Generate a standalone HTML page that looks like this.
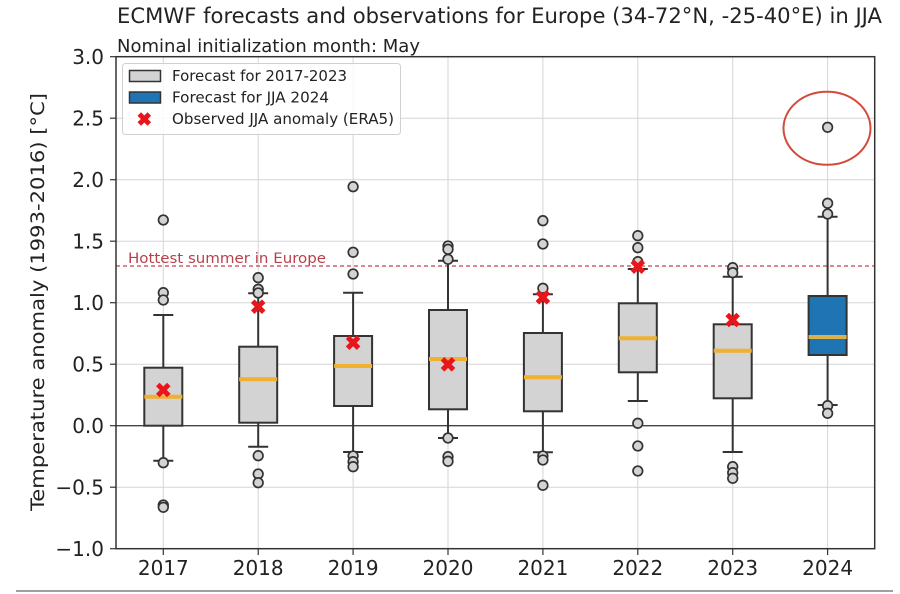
<!DOCTYPE html>
<html><head><meta charset="utf-8"><style>
html,body{margin:0;padding:0;background:#fff;}
svg{display:block;}
text{font-family:"DejaVu Sans","Liberation Sans",sans-serif;fill:#222;}
</style></head><body>
<svg width="900" height="594" viewBox="0 0 900 594" xmlns="http://www.w3.org/2000/svg">
<rect width="900" height="594" fill="#fff"/>
<!-- title -->
<text x="117" y="23" font-size="21" textLength="765" lengthAdjust="spacingAndGlyphs">ECMWF forecasts and observations for Europe (34-72°N, -25-40°E) in JJA</text>
<text x="117" y="52" font-size="18" textLength="303" lengthAdjust="spacingAndGlyphs">Nominal initialization month: May</text>

<!-- grid -->
<g stroke="#d6d6d6" stroke-width="1">
<line x1="116" x2="875" y1="118.2" y2="118.2"/>
<line x1="116" x2="875" y1="179.7" y2="179.7"/>
<line x1="116" x2="875" y1="241.2" y2="241.2"/>
<line x1="116" x2="875" y1="302.7" y2="302.7"/>
<line x1="116" x2="875" y1="364.2" y2="364.2"/>
<line x1="116" x2="875" y1="487.2" y2="487.2"/>
<line y1="57" y2="549" x1="163.3" x2="163.3"/>
<line y1="57" y2="549" x1="258.2" x2="258.2"/>
<line y1="57" y2="549" x1="353.1" x2="353.1"/>
<line y1="57" y2="549" x1="448" x2="448"/>
<line y1="57" y2="549" x1="542.9" x2="542.9"/>
<line y1="57" y2="549" x1="637.8" x2="637.8"/>
<line y1="57" y2="549" x1="732.7" x2="732.7"/>
<line y1="57" y2="549" x1="827.6" x2="827.6"/>
</g>
<!-- zero line -->
<line x1="116" x2="875" y1="425.7" y2="425.7" stroke="#444" stroke-width="1.3"/>
<!-- hottest summer -->
<line x1="116" x2="875" y1="266" y2="266" stroke="#c8404a" stroke-width="1.2" stroke-dasharray="4,3"/>
<text x="128" y="263" font-size="14" fill="#b8404c" style="fill:#b8404c" textLength="198" lengthAdjust="spacingAndGlyphs">Hottest summer in Europe</text>

<!-- boxes -->
<g stroke="#333" stroke-width="2" fill="none">
<!-- 2017 -->
<line x1="163.3" x2="163.3" y1="367.7" y2="315"/><line x1="153.3" x2="173.3" y1="315" y2="315"/>
<line x1="163.3" x2="163.3" y1="425.7" y2="460.7"/><line x1="153.3" x2="173.3" y1="460.7" y2="460.7"/>
<rect x="144.3" y="367.7" width="38" height="58" fill="#d3d3d3"/>
<!-- 2018 -->
<line x1="258.2" x2="258.2" y1="346.7" y2="293.3"/><line x1="248.2" x2="268.2" y1="293.3" y2="293.3"/>
<line x1="258.2" x2="258.2" y1="422.7" y2="446.7"/><line x1="248.2" x2="268.2" y1="446.7" y2="446.7"/>
<rect x="239.2" y="346.7" width="38" height="76" fill="#d3d3d3"/>
<!-- 2019 -->
<line x1="353.1" x2="353.1" y1="336" y2="292.7"/><line x1="343.1" x2="363.1" y1="292.7" y2="292.7"/>
<line x1="353.1" x2="353.1" y1="406" y2="452"/><line x1="343.1" x2="363.1" y1="452" y2="452"/>
<rect x="334.1" y="336" width="38" height="70" fill="#d3d3d3"/>
<!-- 2020 -->
<line x1="448" x2="448" y1="310" y2="260.7"/><line x1="438" x2="458" y1="260.7" y2="260.7"/>
<line x1="448" x2="448" y1="409.3" y2="438"/><line x1="438" x2="458" y1="438" y2="438"/>
<rect x="429" y="310" width="38" height="99.3" fill="#d3d3d3"/>
<!-- 2021 -->
<line x1="542.9" x2="542.9" y1="333" y2="294.3"/><line x1="532.9" x2="552.9" y1="294.3" y2="294.3"/>
<line x1="542.9" x2="542.9" y1="411.3" y2="452.3"/><line x1="532.9" x2="552.9" y1="452.3" y2="452.3"/>
<rect x="523.9" y="333" width="38" height="78.3" fill="#d3d3d3"/>
<!-- 2022 -->
<line x1="637.8" x2="637.8" y1="303.3" y2="269"/><line x1="627.8" x2="647.8" y1="269" y2="269"/>
<line x1="637.8" x2="637.8" y1="372.3" y2="401"/><line x1="627.8" x2="647.8" y1="401" y2="401"/>
<rect x="618.8" y="303.3" width="38" height="69" fill="#d3d3d3"/>
<!-- 2023 -->
<line x1="732.7" x2="732.7" y1="324.3" y2="276.7"/><line x1="722.7" x2="742.7" y1="276.7" y2="276.7"/>
<line x1="732.7" x2="732.7" y1="398.3" y2="452"/><line x1="722.7" x2="742.7" y1="452" y2="452"/>
<rect x="713.7" y="324.3" width="38" height="74" fill="#d3d3d3"/>
<!-- 2024 -->
<line x1="827.6" x2="827.6" y1="296" y2="216.7"/><line x1="817.6" x2="837.6" y1="216.7" y2="216.7"/>
<line x1="827.6" x2="827.6" y1="355" y2="405"/><line x1="817.6" x2="837.6" y1="405" y2="405"/>
<rect x="808.6" y="296" width="38" height="59" fill="#1f74b4"/>
</g>
<!-- medians -->
<g stroke="#f0b030" stroke-width="4">
<line x1="144.3" x2="182.3" y1="396.7" y2="396.7"/>
<line x1="239.2" x2="277.2" y1="379.3" y2="379.3"/>
<line x1="334.1" x2="372.1" y1="366" y2="366"/>
<line x1="429" x2="467" y1="359" y2="359"/>
<line x1="523.9" x2="561.9" y1="377.3" y2="377.3"/>
<line x1="618.8" x2="656.8" y1="338.3" y2="338.3"/>
<line x1="713.7" x2="751.7" y1="350.7" y2="350.7"/>
<line x1="808.6" x2="846.6" y1="337" y2="337" stroke="#dcb04a"/>
</g>
<!-- outliers -->
<g fill="#d3d3d3" stroke="#333" stroke-width="1.7">
<circle cx="163.3" cy="220" r="4.8"/><circle cx="163.3" cy="292.7" r="4.8"/><circle cx="163.3" cy="300" r="4.8"/><circle cx="163.3" cy="462.7" r="4.8"/><circle cx="163.3" cy="505" r="4.8"/><circle cx="163.3" cy="507.3" r="4.8"/>
<circle cx="258.2" cy="277.7" r="4.8"/><circle cx="258.2" cy="289.3" r="4.8"/><circle cx="258.2" cy="293" r="4.8"/><circle cx="258.2" cy="455.7" r="4.8"/><circle cx="258.2" cy="474" r="4.8"/><circle cx="258.2" cy="482.7" r="4.8"/>
<circle cx="353.1" cy="186.7" r="4.8"/><circle cx="353.1" cy="252.3" r="4.8"/><circle cx="353.1" cy="274" r="4.8"/><circle cx="353.1" cy="456" r="4.8"/><circle cx="353.1" cy="461.7" r="4.8"/><circle cx="353.1" cy="466.7" r="4.8"/>
<circle cx="448" cy="246" r="4.8"/><circle cx="448" cy="249.3" r="4.8"/><circle cx="448" cy="259.3" r="4.8"/><circle cx="448" cy="438" r="4.8"/><circle cx="448" cy="456.7" r="4.8"/><circle cx="448" cy="461.3" r="4.8"/>
<circle cx="542.9" cy="220.7" r="4.8"/><circle cx="542.9" cy="244" r="4.8"/><circle cx="542.9" cy="288.3" r="4.8"/><circle cx="542.9" cy="456" r="4.8"/><circle cx="542.9" cy="460" r="4.8"/><circle cx="542.9" cy="485.3" r="4.8"/>
<circle cx="637.8" cy="235.7" r="4.8"/><circle cx="637.8" cy="247.7" r="4.8"/><circle cx="637.8" cy="261.7" r="4.8"/><circle cx="637.8" cy="423.3" r="4.8"/><circle cx="637.8" cy="446" r="4.8"/><circle cx="637.8" cy="471" r="4.8"/>
<circle cx="732.7" cy="267.7" r="4.8"/><circle cx="732.7" cy="272.7" r="4.8"/><circle cx="732.7" cy="466.7" r="4.8"/><circle cx="732.7" cy="472.7" r="4.8"/><circle cx="732.7" cy="478.3" r="4.8"/>
<circle cx="827.6" cy="127.3" r="4.8"/><circle cx="827.6" cy="203.3" r="4.8"/><circle cx="827.6" cy="214" r="4.8"/><circle cx="827.6" cy="405.7" r="4.8"/><circle cx="827.6" cy="413.3" r="4.8"/>
</g>
<!-- observed X markers -->
<g stroke="#e8161a" stroke-width="5" stroke-linecap="butt">
<path d="M157.8 384.5 L168.8 395.5 M168.8 384.5 L157.8 395.5"/>
<path d="M252.7 301.2 L263.7 312.2 M263.7 301.2 L252.7 312.2"/>
<path d="M347.6 337.2 L358.6 348.2 M358.6 337.2 L347.6 348.2"/>
<path d="M442.5 358.8 L453.5 369.8 M453.5 358.8 L442.5 369.8"/>
<path d="M537.4 291.8 L548.4 302.8 M548.4 291.8 L537.4 302.8"/>
<path d="M632.3 261.2 L643.3 272.2 M643.3 261.2 L632.3 272.2"/>
<path d="M727.2 314.5 L738.2 325.5 M738.2 314.5 L727.2 325.5"/>
</g>
<!-- ellipse -->
<ellipse cx="827" cy="128.3" rx="43.5" ry="36.5" fill="none" stroke="#d44a3a" stroke-width="2"/>

<!-- legend -->
<rect x="122.5" y="63.5" width="278" height="71" rx="3" fill="#fff" fill-opacity="0.85" stroke="#d0d0d0" stroke-width="1"/>
<rect x="129.5" y="70.5" width="31" height="11" fill="#d3d3d3" stroke="#333" stroke-width="1.5"/>
<rect x="129.5" y="92" width="31" height="11" fill="#1f74b4" stroke="#333" stroke-width="1.5"/>
<path d="M139.3 114 L149.3 124 M149.3 114 L139.3 124" stroke="#e8161a" stroke-width="5"/>
<text x="172" y="81" font-size="15" textLength="175" lengthAdjust="spacingAndGlyphs">Forecast for 2017-2023</text>
<text x="172" y="102.5" font-size="15" textLength="157" lengthAdjust="spacingAndGlyphs">Forecast for JJA 2024</text>
<text x="172" y="124" font-size="15" textLength="222" lengthAdjust="spacingAndGlyphs">Observed JJA anomaly (ERA5)</text>

<!-- axes frame -->
<rect x="116" y="56.7" width="758.7" height="492" fill="none" stroke="#333" stroke-width="1.5"/>
<!-- ticks -->
<g stroke="#333" stroke-width="1.2">
<line x1="110" x2="116" y1="56.7" y2="56.7"/><line x1="110" x2="116" y1="118.2" y2="118.2"/><line x1="110" x2="116" y1="179.7" y2="179.7"/><line x1="110" x2="116" y1="241.2" y2="241.2"/><line x1="110" x2="116" y1="302.7" y2="302.7"/><line x1="110" x2="116" y1="364.2" y2="364.2"/><line x1="110" x2="116" y1="425.7" y2="425.7"/><line x1="110" x2="116" y1="487.2" y2="487.2"/><line x1="110" x2="116" y1="548.7" y2="548.7"/>
<line x1="163.3" x2="163.3" y1="549" y2="555"/><line x1="258.2" x2="258.2" y1="549" y2="555"/><line x1="353.1" x2="353.1" y1="549" y2="555"/><line x1="448" x2="448" y1="549" y2="555"/><line x1="542.9" x2="542.9" y1="549" y2="555"/><line x1="637.8" x2="637.8" y1="549" y2="555"/><line x1="732.7" x2="732.7" y1="549" y2="555"/><line x1="827.6" x2="827.6" y1="549" y2="555"/>
</g>
<!-- y tick labels -->
<g font-size="20" text-anchor="end">
<text x="104" y="64">3.0</text>
<text x="104" y="125.5">2.5</text>
<text x="104" y="187">2.0</text>
<text x="104" y="248.5">1.5</text>
<text x="104" y="310">1.0</text>
<text x="104" y="371.5">0.5</text>
<text x="104" y="433">0.0</text>
<text x="104" y="494.5">−0.5</text>
<text x="104" y="556">−1.0</text>
</g>
<!-- x tick labels -->
<g font-size="20" text-anchor="middle">
<text x="163.3" y="575">2017</text>
<text x="258.2" y="575">2018</text>
<text x="353.1" y="575">2019</text>
<text x="448" y="575">2020</text>
<text x="542.9" y="575">2021</text>
<text x="637.8" y="575">2022</text>
<text x="732.7" y="575">2023</text>
<text x="827.6" y="575">2024</text>
</g>
<!-- y label -->
<text transform="translate(44,302) rotate(-90)" font-size="19" text-anchor="middle" textLength="418" lengthAdjust="spacingAndGlyphs">Temperature anomaly (1993-2016) [°C]</text>
<!-- bottom rule -->
<line x1="16" x2="893" y1="591" y2="591" stroke="#a0a0a0" stroke-width="2"/>
</svg>
</body></html>
